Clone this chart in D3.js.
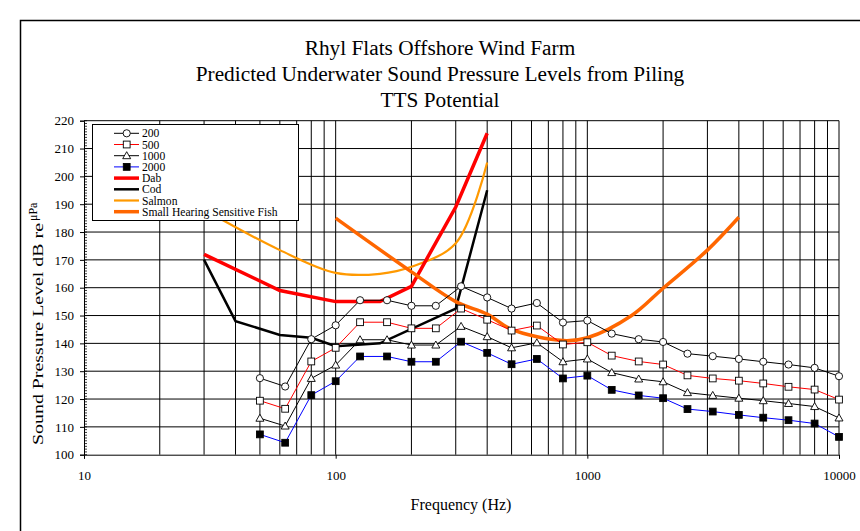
<!DOCTYPE html>
<html><head><meta charset="utf-8">
<script src="https://cdn.jsdelivr.net/npm/d3@7"></script>
<style>body{margin:0;background:#fff}svg{display:block}text{font-family:"Liberation Serif","Times New Roman",serif;fill:#000}</style>
</head><body><svg id="c" width="860" height="531"></svg>
<script>
const titleLines = ["Rhyl Flats Offshore Wind Farm","Predicted Underwater Sound Pressure Levels from Piling","TTS Potential"];
const xTickLabels = [10,100,1000,10000];
const yTickLabels = [100,110,120,130,140,150,160,170,180,190,200,210,220];
const freqs = [50,63,80,100,125,160,200,250,315,400,500,630,800,1000,1250,1600,2000,2500,3150,4000,5000,6300,8000,10000];
const s200  = [127.5,124.5,141.5,146.5,155.5,155.5,153.5,153.5,160.5,156.5,152.5,154.5,147.5,148.2,143.5,141.5,140.5,136.3,135.4,134.4,133.4,132.4,131.2,128.2];
const s500  = [119.4,116.5,133.5,138.4,147.6,147.6,145.4,145.4,152.5,148.5,144.6,146.4,139.6,140.4,135.6,133.5,132.4,128.5,127.4,126.6,125.6,124.4,123.4,119.8];
const s1000 = [113.1,110.3,127.4,132.2,141.3,141.3,139.4,139.4,146.1,142.4,138.4,140.2,133.4,134.4,129.5,127.2,126.2,122.3,121.3,120.3,119.4,118.4,117.3,113.2];
const s2000 = [107.3,104.3,121.4,126.4,135.3,135.3,133.4,133.4,140.6,136.6,132.5,134.4,127.4,128.4,123.3,121.3,120.3,116.4,115.5,114.3,113.3,112.4,111.2,106.4];
const dabF = [30,60,100,150,200,300,400];
const dabV = [172,159,155,155,160.5,189,215.5];
const codF = [30,40,60,80,100,150,300,400];
const codV = [170,148,143,142,139,140,152.5,195];
const salmonF = [30,60,100,150,200,300,400];
const salmonV = [188,173.5,165.3,165,167.5,176,205];
const shsfF = [100,200,300,400,500,800,1000,1500,2000,3000,4000];
const shsfV = [185,165.7,155,150.5,145,141,142,150,159.8,173.5,185.3];

const svg = d3.select("#c");
const L=84,R=839,T=120.7,B=454.7;
const x = d3.scaleLog().domain([10,10000]).range([L,R]);
const y = d3.scaleLinear().domain([100,220]).range([B,T]);

// outer frame
svg.append("rect").attr("x",20.5).attr("y",20.5).attr("width",860).attr("height",540)
  .attr("fill","none").attr("stroke","#000").attr("stroke-width",1.5);

// title
svg.selectAll("text.title").data(titleLines).join("text").attr("class","title")
  .attr("x",440).attr("y",(d,i)=>[55,81,107][i]).attr("text-anchor","middle")
  .style("font-size","21.3px").text(d=>d);

// grid
const g = svg.append("g");
const vgrid = [];
for (let dec=10; dec<10000; dec*=10) for (let m=1;m<10;m++) if (dec*m>10) vgrid.push(dec*m);
vgrid.push(10000);
g.selectAll("line.v").data(vgrid).join("line").attr("x1",d=>x(d)).attr("x2",d=>x(d))
  .attr("y1",T).attr("y2",B).attr("stroke","#000").attr("stroke-width",1);
g.selectAll("line.h").data(yTickLabels.slice(1)).join("line").attr("x1",L).attr("x2",R)
  .attr("y1",d=>y(d)).attr("y2",d=>y(d)).attr("stroke","#000").attr("stroke-width",1);

// axes
const ya = svg.append("g").attr("transform",`translate(${L},0)`)
  .call(d3.axisLeft(y).tickValues(yTickLabels).tickSize(4).tickPadding(6).tickFormat(d3.format("d")));
ya.select(".domain").attr("stroke","#000");
ya.selectAll("text").style("font-size","13px").attr("font-family",null);
const minor = d3.range(100,221,1);
svg.append("g").selectAll("line").data(minor).join("line").attr("x1",L).attr("x2",L+3)
  .attr("y1",d=>y(d)).attr("y2",d=>y(d)).attr("stroke","#000").attr("stroke-width",0.8);
const xa = svg.append("g").attr("transform",`translate(0,${B})`)
  .call(d3.axisBottom(x).tickValues(xTickLabels).tickSize(4).tickPadding(12).tickFormat(d3.format("d")));
xa.select(".domain").attr("stroke","#000");
xa.selectAll("text").style("font-size","13px").attr("font-family",null);

// axis titles
svg.append("text").attr("x",461).attr("y",510).attr("text-anchor","middle").style("font-size","16px").text("Frequency (Hz)");
svg.append("text").attr("transform","translate(43,445) rotate(-90)").style("font-size","15.5px")
  .attr("textLength",222).attr("lengthAdjust","spacingAndGlyphs").text("Sound Pressure Level dB re");
svg.append("text").attr("transform","translate(37,221) rotate(-90)").style("font-size","12px").text("μPa");

// threshold curves
const lin = d3.line().x(d=>x(d[0])).y(d=>y(d[1]));
const smooth = d3.line().x(d=>x(d[0])).y(d=>y(d[1])).curve(d3.curveCatmullRom.alpha(0.5));
const zip=(a,b)=>a.map((v,i)=>[v,b[i]]);
svg.append("path").attr("d",smooth(zip(salmonF,salmonV))).attr("fill","none").attr("stroke","#FF9900").attr("stroke-width",2.2);
svg.append("path").attr("d",lin(zip(codF,codV))).attr("fill","none").attr("stroke","#000").attr("stroke-width",2.5);
svg.append("path").attr("d",lin(zip(dabF,dabV))).attr("fill","none").attr("stroke","#FF0000").attr("stroke-width",3.5);
svg.append("path").attr("d",smooth(zip(shsfF,shsfV))).attr("fill","none").attr("stroke","#FF6600").attr("stroke-width",3.5);

// noise series
const series = [
  {name:"200", v:s200, color:"#000", marker:"circle", fill:"#fff"},
  {name:"500", v:s500, color:"#FF0000", marker:"square", fill:"#fff"},
  {name:"1000", v:s1000, color:"#000", marker:"triangle", fill:"#fff"},
  {name:"2000", v:s2000, color:"#0000FF", marker:"square", fill:"#000"}
];
function drawMarker(sel, s, cx, cy){
  if (s.marker==="circle") sel.append("circle").attr("cx",cx).attr("cy",cy).attr("r",3.6).attr("fill",s.fill).attr("stroke","#000").attr("stroke-width",0.9);
  else if (s.marker==="square") sel.append("rect").attr("x",cx-3.4).attr("y",cy-3.4).attr("width",6.8).attr("height",6.8).attr("fill",s.fill).attr("stroke","#000").attr("stroke-width",0.9);
  else sel.append("path").attr("d",`M${cx},${cy-4}L${cx+4},${cy+3}L${cx-4},${cy+3}Z`).attr("fill",s.fill).attr("stroke","#000").attr("stroke-width",0.9);
}
series.forEach(s=>{
  const pts = zip(freqs,s.v);
  svg.append("path").attr("d",lin(pts)).attr("fill","none").attr("stroke",s.color).attr("stroke-width",1);
  const mg = svg.append("g");
  pts.forEach(p=>drawMarker(mg,s,x(p[0]),y(p[1])));
});

// legend
const lg = svg.append("g");
lg.append("rect").attr("x",92.5).attr("y",124.5).attr("width",206).attr("height",96).attr("fill","#fff").attr("stroke","#000").attr("stroke-width",1);
const legendItems = [
  {name:"200", color:"#000", w:1, s:series[0]},
  {name:"500", color:"#FF0000", w:1, s:series[1]},
  {name:"1000", color:"#000", w:1, s:series[2]},
  {name:"2000", color:"#0000FF", w:1, s:series[3]},
  {name:"Dab", color:"#FF0000", w:3.5},
  {name:"Cod", color:"#000", w:2.5},
  {name:"Salmon", color:"#FF9900", w:2.2},
  {name:"Small Hearing Sensitive Fish", color:"#FF6600", w:3.5}
];
legendItems.forEach((d,i)=>{
  const cy = 133.3 + i*11.2;
  lg.append("line").attr("x1",114).attr("x2",139).attr("y1",cy).attr("y2",cy).attr("stroke",d.color).attr("stroke-width",d.w);
  if (d.s) drawMarker(lg,d.s,126.7,cy);
  lg.append("text").attr("x",142).attr("y",cy+4).style("font-size","11.6px").text(d.name);
});
</script></body></html>
